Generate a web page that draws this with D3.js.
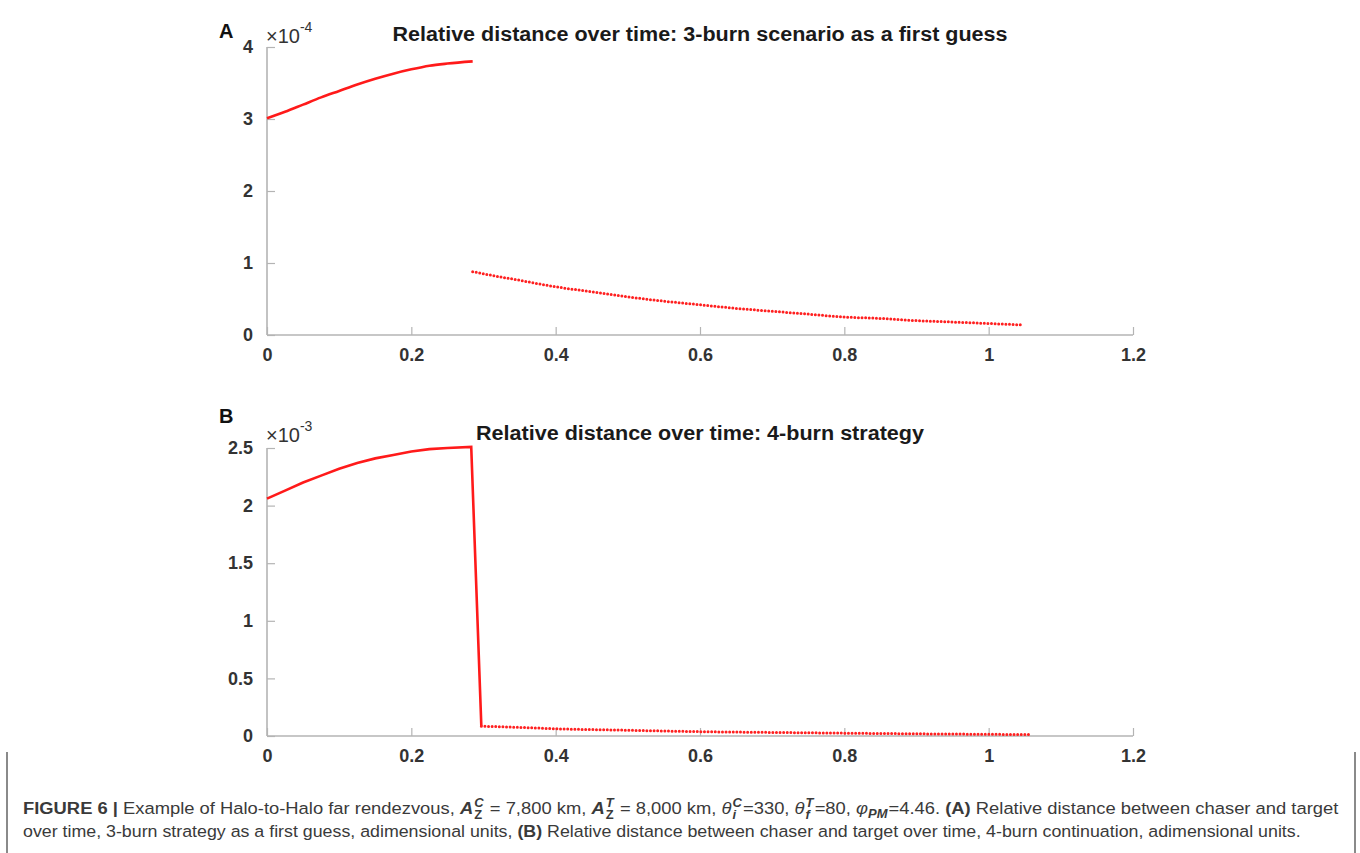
<!DOCTYPE html>
<html>
<head>
<meta charset="utf-8">
<script src="https://cdn.jsdelivr.net/npm/d3@7"></script>
<style>
  body { margin: 0; background: #fff; }
  svg { display: block; font-family: "Liberation Sans", Arial, sans-serif; }
</style>
</head>
<body>
<svg id="fig" width="1360" height="853"></svg>
<script>
// panel A, solid part (x1e-4)
const tA_solid = [0, 0.025, 0.05, 0.075, 0.1, 0.125, 0.15, 0.175, 0.2, 0.225, 0.25, 0.285];
const dA_solid = [3.01, 3.10, 3.20, 3.30, 3.39, 3.48, 3.56, 3.63, 3.69, 3.74, 3.77, 3.80];
// panel A, dotted part
const tA_dot = [0.285, 0.3, 0.35, 0.4, 0.45, 0.5, 0.55, 0.6, 0.65, 0.7, 0.75, 0.8, 0.85, 0.9, 0.95, 1.0, 1.047];
const dA_dot = [0.88, 0.85, 0.76, 0.67, 0.60, 0.53, 0.47, 0.42, 0.37, 0.33, 0.29, 0.25, 0.23, 0.20, 0.18, 0.16, 0.14];

// panel B (x1e-3)
const tB_solid = [0, 0.025, 0.05, 0.075, 0.1, 0.125, 0.15, 0.175, 0.2, 0.225, 0.25, 0.283, 0.297];
const dB_solid = [2.06, 2.13, 2.20, 2.26, 2.32, 2.37, 2.41, 2.44, 2.47, 2.49, 2.50, 2.51, 0.085];
const tB_dot = [0.297, 0.35, 0.4, 0.5, 0.6, 0.7, 0.8, 0.9, 1.0, 1.057];
const dB_dot = [0.085, 0.075, 0.063, 0.05, 0.038, 0.031, 0.025, 0.019, 0.015, 0.012];

const xTicks = [0, 0.2, 0.4, 0.6, 0.8, 1, 1.2];
const yTicksA = [0, 1, 2, 3, 4];
const yTicksB = [0, 0.5, 1, 1.5, 2, 2.5];

const svg = d3.select("#fig");
const axisCol = "#b4b4b4";
const labelCol = "#333";

function drawPanel(opt) {
  const x = d3.scaleLinear().domain([0, 1.2]).range([267, 1133]);
  const y = d3.scaleLinear().domain(opt.yDomain).range([opt.y0, opt.y1]);
  const g = svg.append("g");

  // axes lines (box off)
  g.append("line").attr("x1", 267).attr("x2", 1133).attr("y1", opt.y0).attr("y2", opt.y0)
    .attr("stroke", axisCol).attr("stroke-width", 1.6);
  g.append("line").attr("x1", 267).attr("x2", 267).attr("y1", opt.y0).attr("y2", opt.y1)
    .attr("stroke", axisCol).attr("stroke-width", 1.6);

  const xa = g.append("g").attr("transform", `translate(0,${opt.y0})`)
    .call(d3.axisBottom(x).tickValues(xTicks).tickSize(-8).tickPadding(13)
      .tickFormat(d => d3.format("")(+d.toFixed(1))));
  const ya = g.append("g").attr("transform", "translate(267,0)")
    .call(d3.axisLeft(y).tickValues(opt.yTicks).tickSize(-8).tickPadding(14)
      .tickFormat(d => d3.format("")(+d.toFixed(1))));
  [xa, ya].forEach(a => {
    a.select(".domain").remove();
    a.selectAll(".tick line").attr("stroke", axisCol).attr("stroke-width", 1.2);
    a.selectAll(".tick text").attr("fill", labelCol).style("font-size", "18px")
      .style("font-weight", "bold").style("font-family", "'Liberation Sans', Arial, sans-serif");
  });

  const line = d3.line().x(d => x(d[0])).y(d => y(d[1]));
  g.append("path").datum(opt.tSolid.map((t, i) => [t, opt.dSolid[i]]))
    .attr("d", line.curve(opt.curve)).attr("fill", "none")
    .attr("stroke", "#ff1a1a").attr("stroke-width", 2.6);
  g.append("path").datum(opt.tDot.map((t, i) => [t, opt.dDot[i]]))
    .attr("d", line.curve(d3.curveMonotoneX)).attr("fill", "none")
    .attr("stroke", "#ff2020").attr("stroke-width", 3)
    .attr("stroke-linecap", "round").attr("stroke-dasharray", "0,3.6");

  // panel letter
  svg.append("text").attr("x", 219).attr("y", opt.letterY).text(opt.letter)
    .attr("fill", "#111").style("font-size", "20px").style("font-weight", "bold");

  // exponent
  const ex = svg.append("text").attr("x", 266).attr("y", opt.expY).attr("fill", labelCol)
    .style("font-size", "20px");
  ex.append("tspan").text("\u00d710");
  ex.append("tspan").attr("dy", -11).style("font-size", "14px").text(opt.expo);

  // title
  svg.append("text").attr("x", 700).attr("y", opt.titleY).attr("text-anchor", "middle")
    .attr("fill", "#1a1a1a").style("font-size", "20px").style("font-weight", "bold")
    .attr("textLength", opt.titleW).attr("lengthAdjust", "spacingAndGlyphs")
    .text(opt.title);
}

drawPanel({
  yDomain: [0, 4], y0: 335, y1: 47, yTicks: yTicksA,
  tSolid: tA_solid, dSolid: dA_solid, tDot: tA_dot, dDot: dA_dot, curve: d3.curveMonotoneX,
  letter: "A", letterY: 38, expY: 43, expo: "-4",
  title: "Relative distance over time: 3-burn scenario as a first guess", titleY: 41, titleW: 615
});
drawPanel({
  yDomain: [0, 2.5], y0: 736, y1: 448, yTicks: yTicksB,
  tSolid: tB_solid, dSolid: dB_solid, tDot: tB_dot, dDot: dB_dot, curve: d3.curveLinear,
  letter: "B", letterY: 423, expY: 442, expo: "-3",
  title: "Relative distance over time: 4-burn strategy", titleY: 440, titleW: 448
});

// caption box
svg.append("line").attr("x1", 7).attr("x2", 7).attr("y1", 752).attr("y2", 853)
  .attr("stroke", "#8a8a8a").attr("stroke-width", 2);
svg.append("line").attr("x1", 1355).attr("x2", 1355).attr("y1", 752).attr("y2", 853)
  .attr("stroke", "#8a8a8a").attr("stroke-width", 2);

const cap1 = [
  { t: "FIGURE 6 | ", b: true },
  { t: "Example of Halo-to-Halo far rendezvous, " },
  { t: "A", b: true, i: true, sup: "C", sub: "Z" },
  { t: " = 7,800 km, " },
  { t: "A", b: true, i: true, sup: "T", sub: "Z" },
  { t: " = 8,000 km, " },
  { t: "\u03b8", i: true, sup: "C", sub: "i" },
  { t: "=330, " },
  { t: "\u03b8", i: true, sup: "T", sub: "f" },
  { t: "=80, " },
  { t: "\u03c6", i: true, subOnly: "PM" },
  { t: "=4.46. " },
  { t: "(A)", b: true },
  { t: " Relative distance between chaser and target" }
];
const cap2 = [
  { t: "over time, 3-burn strategy as a first guess, adimensional units, " },
  { t: "(B)", b: true },
  { t: " Relative distance between chaser and target over time, 4-burn continuation, adimensional units." }
];

function caption(segs, yBase, width) {
  const tx = svg.append("text").attr("x", 0).attr("y", 0).attr("fill", "#3a3a3a")
    .style("font-size", "17px");
  let shift = 0, extra = 0;
  segs.forEach(s => {
    tx.append("tspan").text(s.t).attr("dy", -shift).attr("dx", extra)
      .style("font-weight", s.b ? "bold" : null).style("font-style", s.i ? "italic" : null);
    shift = 0; extra = 0;
    if (s.sup) {
      const sp = tx.append("tspan").text(s.sup).attr("dx", 1).attr("dy", -7).style("font-size", "12px")
        .style("font-weight", "bold").style("font-style", "italic");
      const w = sp.node().getComputedTextLength();
      const sb = tx.append("tspan").text(s.sub).attr("dx", -w).attr("dy", 12).style("font-size", "12px")
        .style("font-weight", "bold").style("font-style", s.sub === "Z" ? null : "italic");
      const w2 = sb.node().getComputedTextLength();
      shift = 5;
      extra = Math.max(0, w - w2) + 1;
    }
    if (s.subOnly) {
      tx.append("tspan").text(s.subOnly).attr("dy", 4).style("font-size", "12px")
        .style("font-weight", "bold").style("font-style", "italic");
      shift = 4; extra = 1;
    }
  });
  const w = tx.node().getBBox().width;
  tx.attr("transform", `translate(23,${yBase}) scale(${width / w},1)`);
}
caption(cap1, 814, 1317);
caption(cap2, 837, 1279);
</script>
</body>
</html>
